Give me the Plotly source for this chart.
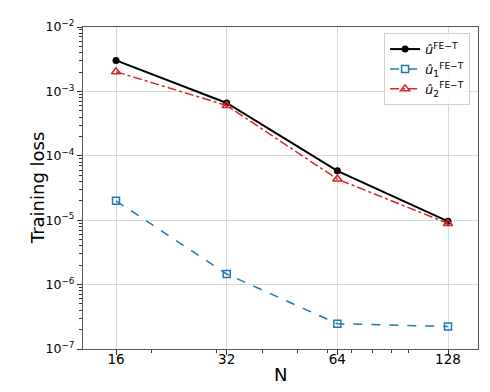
"""Training loss vs N for the FE-T surrogate and its two components."""

import plotly.graph_objects as go

N = [16, 32, 64, 128]
loss_u = [3.03e-3, 6.6e-4, 5.85e-5, 9.6e-6]
loss_u1 = [2.0e-5, 1.46e-6, 2.47e-7, 2.24e-7]
loss_u2 = [2.02e-3, 6.05e-4, 4.35e-5, 8.9e-6]

y_ticks = [1e-7, 1e-6, 1e-5, 1e-4, 1e-3, 1e-2]
y_ticktext = [f"10<sup>\u2212{k}</sup>" for k in range(7, 1, -1)]
x_minor = [20, 30, 40, 50, 60, 70, 80, 90, 100]
y_minor = [m * 10.0 ** e for e in range(-7, -2) for m in range(2, 10)]

FONT = "DejaVu Sans, Liberation Sans, sans-serif"

fig = go.Figure()
fig.add_trace(go.Scatter(
    x=N, y=loss_u, mode="lines+markers",
    name="<i>û</i><sup>FE\u2212T</sup>",
    line=dict(color="black", width=2),
    marker=dict(symbol="circle", size=7, color="black"),
))
fig.add_trace(go.Scatter(
    x=N, y=loss_u1, mode="lines+markers",
    name="<i>û</i><sub>1</sub><sup>FE\u2212T</sup>",
    line=dict(color="#1f77b4", width=1.5, dash="dash"),
    marker=dict(symbol="square-open", size=7, color="#1f77b4", line=dict(width=1.5)),
))
fig.add_trace(go.Scatter(
    x=N, y=loss_u2, mode="lines+markers",
    name="<i>û</i><sub>2</sub><sup>FE\u2212T</sup>",
    line=dict(color="#d62728", width=1.5, dash="dashdot"),
    marker=dict(symbol="triangle-up-open", size=8, color="#d62728", line=dict(width=1.5)),
))

axis_common = dict(
    showline=True, mirror=True, linecolor="#555", linewidth=1.2,
    showgrid=True, gridcolor="#d9d9d9", gridwidth=1,
    ticks="outside", ticklen=5, tickcolor="#333", tickwidth=1,
    zeroline=False, automargin=False,
)

fig.update_xaxes(
    type="log", range=[1.1143, 2.1888],
    tickvals=N, ticktext=[str(n) for n in N],
    tickfont=dict(size=13.5, color="black"),
    ticklabelstandoff=-7,
    minor=dict(tickvals=x_minor, ticks="outside", ticklen=2.5, tickcolor="#333", showgrid=False),
    **axis_common,
)
fig.update_yaxes(
    type="log", range=[-7, -2],
    tickvals=y_ticks, ticktext=y_ticktext,
    tickfont=dict(size=12.5, color="black"),
    minor=dict(tickvals=y_minor, ticks="outside", ticklen=2.5, tickcolor="#333", showgrid=False),
    **axis_common,
)

# axis titles as annotations so they sit where the reference has them
fig.add_annotation(
    text="Training loss", xref="paper", yref="paper", x=-0.116, y=0.5,
    textangle=-90, showarrow=False, xanchor="center", yanchor="middle",
    font=dict(size=18, color="black"),
)
fig.add_annotation(
    text="N", xref="paper", yref="paper", x=0.5, y=-0.08,
    showarrow=False, xanchor="center", yanchor="middle",
    font=dict(size=18, color="black"),
)

# the page body adds an 8px offset, so the figure is sized to fit inside it
fig.update_layout(
    width=482, height=384,
    margin=dict(l=75, r=12, t=19, b=43),
    paper_bgcolor="white", plot_bgcolor="white",
    font=dict(family=FONT, color="black"),
    legend=dict(
        x=0.98, y=0.981, xanchor="right", yanchor="top",
        bgcolor="rgba(255,255,255,0.85)", bordercolor="#d0d0d0", borderwidth=1,
        font=dict(size=13), tracegroupgap=0, itemwidth=30,
    ),
)

fig.write_html("out.html")
